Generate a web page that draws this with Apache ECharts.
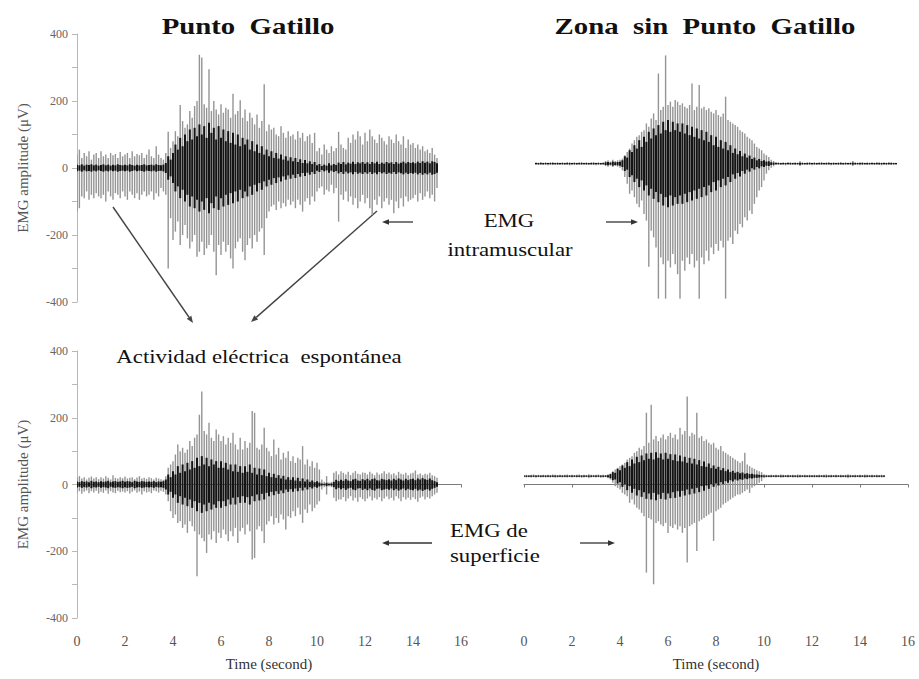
<!DOCTYPE html>
<html><head><meta charset="utf-8">
<script src="https://cdn.jsdelivr.net/npm/echarts@6/dist/echarts.min.js"></script>
<style>html,body{margin:0;padding:0;background:#fff}#c{width:919px;height:679px}</style>
</head><body><div id="c"></div>
<script>
// ---- data (µV), sampled every STEP seconds ----
const STEP = 0.1;
const xTickLabels = [0, 2, 4, 6, 8, 10, 12, 14, 16];
const yTickLabels = [400, 200, 0, -200, -400];
const titles = ['Punto  Gatillo', 'Zona  sin  Punto  Gatillo'];

// Punto Gatillo – EMG intramuscular (t = 0 … 15 s)
const tlStart = 0;
const tlOffset = 0;
const tlHi = [40,55,30,45,35,50,25,40,45,30, 50,35,40,30,45,38,42,30,48,35, 40,45,30,50,35,42,38,45,30,40, 55,35,30,65,40,30,25,45,108,60,
  80,110,95,188,140,120,130,170,150,185, 200,338,330,190,180,295,170,200,175,160, 190,165,180,175,150,222,160,170,202,150, 175,140,165,150,130,160,120,140,250,110,
  130,115,120,100,95,125,105,90,110,95, 100,85,110,90,105,80,95,100,75,105, 50,60,40,70,55,45,65,50,60,108, 70,60,55,90,75,100,85,110,95,70,
  105,80,115,95,85,75,100,90,80,70, 95,85,75,100,80,70,95,60,85,70, 75,60,70,55,65,50,55,45,60,40, 30];
const tlLo = [-130,-120,-85,-90,-70,-95,-80,-90,-75,-85, -90,-80,-100,-70,-85,-95,-75,-80,-90,-70, -85,-95,-70,-80,-90,-75,-95,-80,-70,-85, -80,-70,-95,-75,-85,-60,-70,-80,-300,-150,
  -215,-190,-160,-230,-200,-170,-210,-240,-220,-200, -265,-250,-220,-260,-240,-230,-200,-250,-320,-230, -260,-220,-250,-230,-270,-300,-240,-220,-210,-250, -275,-230,-210,-240,-200,-220,-190,-180,-260,-150,
  -130,-115,-110,-125,-100,-120,-105,-115,-95,-110, -100,-120,-95,-110,-130,-100,-90,-110,-85,-100, -70,-60,-55,-80,-65,-70,-50,-75,-60,-160, -80,-95,-70,-100,-85,-110,-90,-120,-100,-80,
  -105,-90,-120,-140,-95,-110,-85,-120,-100,-90, -110,-95,-135,-100,-120,-90,-115,-85,-100,-95, -90,-80,-100,-75,-95,-85,-70,-90,-80,-100, -60];
const tlCore = [10,8,11,7,10,9,11,8,10,7, 9,11,8,10,7,10,8,11,9,8, 10,8,11,9,7,10,8,9,11,8, 9,10,8,11,9,8,10,15,35,25,
  45,70,55,90,65,100,80,115,85,120, 95,130,100,125,90,135,105,120,85,125, 90,115,80,110,75,105,70,100,65,90, 70,85,55,80,50,70,45,65,40,55,
  35,50,30,45,28,40,25,35,22,32, 20,30,18,26,15,24,14,20,12,18, 8,12,6,10,7,14,8,12,9,16, 12,18,11,16,13,19,12,17,14,18,
  13,17,12,18,14,19,12,16,13,18, 14,17,12,18,13,16,19,14,18,15, 17,14,19,15,20,16,19,14,20,18, 14];

// Zona sin Punto Gatillo – EMG intramuscular (t = 0.5 … 15.5 s)
const trStart = 0.5;
const trOffset = 13;
const trHi = [4,3,5,3,4,3,4,5,3,4, 3,4,3,5,4,3,4,3,4,5, 3,4,3,4,5,3,4,3,4,8, 10,6,12,8,10,12, 15,25,35,45,
  60,70,80,85,95,100,120,110,135,150, 130,269,160,170,323,175,185,170,190,185, 175,180,170,165,175,239,160,170,235,165, 170,160,165,155,150,160,145,140,150,200,
  130,125,120,115,110,100,95,90,80,75, 70,60,50,45,40,30,25,20,12,8, 5,4,3,4,3,5,4,3,4,3, 8,4,3,4,5,3,4,3,4,5,
  3,4,5,3,4,3,4,5,3,4, 3,4,8,4,3,4,5,3,4,3, 4,3,5,4,3,4,3,5,4,3, 3];
const trLo = [-3,-4,-3,-4,-3,-5,-3,-4,-3,-4, -4,-3,-4,-3,-5,-4,-3,-4,-3,-4, -3,-4,-4,-3,-4,-5,-3,-4,-3,-7, -9,-6,-10,-7,-9,-12, -20,-40,-60,-90,
  -80,-100,-120,-130,-110,-150,-170,-308,-200,-220, -250,-403,-280,-300,-403,-290,-310,-270,-300,-330, -403,-290,-320,-280,-300,-270,-310,-290,-403,-280, -300,-260,-290,-250,-270,-240,-260,-230,-250,-403,
  -230,-220,-240,-200,-210,-180,-190,-160,-170,-140, -150,-120,-100,-80,-70,-50,-30,-20,-12,-8, -4,-3,-4,-3,-5,-3,-4,-3,-4,-3, -7,-4,-3,-4,-3,-5,-3,-4,-3,-4,
  -3,-4,-3,-5,-4,-3,-4,-3,-4,-3, -4,-3,-7,-4,-3,-5,-4,-3,-4,-3, -3,-4,-3,-4,-5,-3,-4,-3,-4,-3, -3];
const trCore = [2,2,2,2,2,2,2,2,2,2, 2,2,2,2,2,2,2,2,2,2, 2,2,2,2,2,2,2,2,2,4, 5,3,6,4,5,6, 10,22,18,40,
  35,55,45,70,50,80,65,95,75,105, 85,115,90,125,100,130,95,125,100,120, 95,120,90,115,85,110,80,105,75,100, 70,95,65,85,55,80,50,70,45,65,
  40,55,32,45,28,38,22,30,18,24, 14,18,10,14,8,10,6,7,4,3, 2,2,2,2,2,2,2,2,2,2, 3,2,2,2,2,2,2,2,2,2,
  2,2,2,2,2,2,2,2,2,2, 2,2,3,2,2,2,2,2,2,2, 2,2,2,2,2,2,2,2,2,2, 2];

// Punto Gatillo – EMG de superficie (t = 0 … 15 s)
const blStart = 0;
const blOffset = 0;
const blHi = [20,25,18,22,15,20,24,18,22,16, 22,18,25,20,15,28,20,18,22,19, 24,18,20,22,16,21,25,18,20,17, 22,19,15,20,18,16,14,25,50,60,
  70,90,120,100,110,95,105,130,115,140, 150,209,279,160,150,185,140,130,165,150, 130,145,120,140,125,155,120,105,140,105, 130,110,125,220,215,110,105,120,170,110,
  100,85,135,90,110,75,95,80,100,70, 85,65,80,75,115,60,75,55,70,50, 65,45,15,8,25,6,8,35,40,30, 40,35,30,38,28,35,40,32,30,36,
  35,30,38,33,28,36,30,34,40,32, 36,30,34,28,38,32,30,35,28,33, 35,42,30,33,28,32,30,35,28,25, 20];
const blLo = [-25,-20,-28,-22,-18,-26,-20,-24,-19,-27, -22,-25,-18,-28,-20,-24,-26,-19,-23,-21, -24,-20,-27,-22,-18,-25,-21,-30,-20,-24, -22,-26,-18,-20,-24,-19,-22,-30,-50,-80,
  -100,-90,-115,-110,-130,-120,-145,-110,-125,-140, -275,-150,-160,-170,-205,-150,-165,-140,-175,-145, -160,-135,-150,-170,-140,-155,-130,-175,-140,-130, -150,-120,-140,-225,-220,-135,-125,-140,-175,-120,
  -110,-95,-120,-100,-115,-90,-105,-135,-95,-100, -80,-95,-70,-90,-115,-75,-85,-60,-80,-70, -60,-50,-15,-8,-30,-6,-8,-40,-50,-45, -45,-38,-50,-42,-35,-48,-40,-52,-38,-44,
  -50,-42,-36,-48,-40,-45,-38,-50,-42,-36, -44,-40,-48,-35,-42,-50,-38,-45,-40,-46, -38,-44,-52,-40,-36,-45,-38,-42,-35,-30, -25];
const blCore = [9,7,10,8,9,7,11,8,9,7, 10,8,9,11,7,9,10,8,9,11, 8,10,9,7,11,9,8,10,9,8, 9,8,10,7,9,8,10,15,30,22,
  40,30,55,35,60,40,65,45,70,50, 80,55,85,60,80,55,75,60,70,50, 70,50,65,45,60,40,60,38,55,35, 55,38,60,35,50,30,48,28,45,25,
  35,22,32,20,28,18,26,15,22,14, 22,12,20,10,18,9,15,8,12,7, 10,6,3,2,5,2,3,8,14,10, 14,11,16,12,10,15,17,12,11,16,
  13,17,12,16,18,13,12,17,15,13, 16,12,17,13,18,15,12,17,13,16, 17,13,18,15,19,16,14,18,13,10, 7];

// Zona sin Punto Gatillo – EMG de superficie (t = 0 … 15 s)
const brStart = 0;
const brOffset = 25;
const brHi = [3,4,3,4,5,3,4,3,4,3, 4,3,5,4,3,4,3,4,5,3, 4,3,4,5,3,4,3,6,4,3, 4,5,3,4,3,6,8,15,20,25,
  30,35,40,50,55,60,70,75,85,80, 90,190,100,214,110,120,105,115,125,110, 120,130,115,125,110,145,125,135,239,120, 130,125,190,115,120,105,110,100,95,100,
  85,80,90,75,70,65,60,55,50,45, 40,45,70,35,30,25,22,18,15,12, 6,4,3,4,3,4,3,5,4,3, 4,3,4,3,5,4,3,4,3,4,
  3,4,3,4,3,4,5,3,4,3, 4,3,4,3,4,6,4,3,4,3, 4,3,5,4,3,4,3,4,3,4, 3];
const brLo = [-3,-4,-3,-4,-3,-5,-3,-4,-3,-4, -3,-4,-3,-5,-4,-3,-4,-3,-4,-3, -4,-3,-4,-3,-5,-4,-3,-6,-4,-3, -4,-3,-5,-4,-3,-6,-10,-20,-30,-35,
  -40,-50,-55,-60,-80,-70,-85,-95,-100,-110, -120,-289,-125,-130,-324,-140,-135,-145,-150,-140, -170,-150,-155,-145,-160,-150,-170,-155,-259,-150, -145,-140,-224,-135,-130,-125,-120,-115,-110,-194,
  -105,-100,-95,-85,-80,-75,-70,-65,-60,-55, -55,-50,-45,-40,-50,-35,-30,-25,-20,-15, -6,-4,-3,-4,-3,-4,-3,-5,-4,-3, -4,-3,-4,-3,-5,-4,-3,-4,-3,-4,
  -3,-4,-3,-4,-3,-4,-5,-3,-4,-3, -4,-3,-4,-3,-4,-6,-4,-3,-4,-3, -4,-3,-5,-4,-3,-4,-3,-4,-3,-4, -3];
const brCore = [2,2,2,2,2,2,2,2,2,2, 2,2,2,2,2,2,2,2,2,2, 2,2,2,2,2,2,2,2,2,2, 2,2,2,2,2,3,6,12,10,22,
  18,32,25,42,30,50,38,58,42,62, 48,68,52,70,50,72,55,68,50,70, 52,66,48,65,45,62,44,58,40,55, 38,52,35,48,30,44,28,38,24,32,
  22,28,18,24,15,20,12,16,10,13, 9,11,7,9,6,7,5,5,4,3, 2,2,2,2,2,2,2,2,2,2, 2,2,2,2,2,2,2,2,2,2,
  2,2,2,2,2,2,2,2,2,2, 2,2,2,2,2,2,2,2,2,2, 2,2,2,2,2,2,2,2,2,2, 2];

// ---- build ----
function spikes(start, off, lo, hi) {
  return lo.map((v, i) => [+(start + i * STEP).toFixed(2), v + off, hi[i] + off]);
}
function core(start, off, amp) {
  return amp.map((v, i) => [+(start + i * STEP).toFixed(2), off - v, off + v]);
}
function segRenderer(color, width) {
  return function (params, api) {
    const t = api.value(0);
    const p1 = api.coord([t, api.value(1)]);
    const p2 = api.coord([t, api.value(2)]);
    return { type: 'line', shape: { x1: p1[0], y1: p1[1], x2: p2[0], y2: p2[1] },
      style: { stroke: color, lineWidth: width } };
  };
}
function sig(idx, data, color, width) {
  return { type: 'custom', xAxisIndex: idx, yAxisIndex: idx, clip: true,
    renderItem: segRenderer(color, width), encode: { x: 0, y: [1, 2] }, data: data, silent: true };
}

const serif = "'Liberation Serif', 'Times New Roman', serif";
const GREY = '#949494', DARK = '#141414';

const panels = [
  { s: spikes(tlStart, tlOffset, tlLo, tlHi), c: core(tlStart, tlOffset, tlCore) },
  { s: spikes(trStart, trOffset, trLo, trHi), c: core(trStart, trOffset, trCore) },
  { s: spikes(blStart, blOffset, blLo, blHi), c: core(blStart, blOffset, blCore) },
  { s: spikes(brStart, brOffset, brLo, brHi), c: core(brStart, brOffset, brCore) }
];

const grids = [
  { left: 77, top: 34, width: 384, height: 268 },
  { left: 524, top: 34, width: 384, height: 268 },
  { left: 77, top: 351, width: 384, height: 267 },
  { left: 524, top: 351, width: 384, height: 267 }
];

function xAx(i, visible) {
  return { type: 'value', gridIndex: i, min: 0, max: 16, interval: 2, show: visible, offset: 8,
    axisLine: { show: true, lineStyle: { color: '#7a7a7a', width: 1.2 } },
    axisTick: { show: true, inside: false, length: 3, lineStyle: { color: '#7a7a7a' } },
    splitLine: { show: false },
    axisLabel: { margin: 8, color: '#555', fontFamily: serif, fontSize: 14,
      formatter: v => xTickLabels.includes(v) ? String(v) : '' },
    name: 'Time (second)', nameLocation: 'middle', nameGap: 30,
    nameTextStyle: { color: '#333', fontFamily: serif, fontSize: 15 } };
}
function yAx(i, visible) {
  return { type: 'value', gridIndex: i, min: -400, max: 400, interval: 100, show: visible,
    axisLine: { show: true, lineStyle: { color: '#b8b8b8', width: 1 } },
    axisTick: { show: true, inside: false, length: 5, lineStyle: { color: '#b8b8b8' } },
    splitLine: { show: false },
    axisLabel: { margin: 9, color: '#666', fontFamily: serif, fontSize: 12,
      formatter: v => yTickLabels.includes(v) ? String(v) : '' },
    name: 'EMG amplitude (\u03bcV)', nameLocation: 'middle', nameGap: 47, nameRotate: 90,
    nameTextStyle: { color: '#555', fontFamily: serif, fontSize: 15 } };
}

function text(str, x, y, size, bold, align) {
  return { type: 'text', x: x, y: y, scaleX: 1.2, silent: true,
    style: { text: str, fill: '#111', fontFamily: serif, fontSize: size, fontWeight: bold ? 'bold' : 'normal',
      align: align || 'center', verticalAlign: 'middle' } };
}
function arrow(x1, y1, x2, y2, color, w) {
  const a = Math.atan2(y2 - y1, x2 - x1), L = 7, W = 2.8;
  const bx = x2 - L * Math.cos(a), by = y2 - L * Math.sin(a);
  const px = -Math.sin(a) * W, py = Math.cos(a) * W;
  return [
    { type: 'line', silent: true, shape: { x1: x1, y1: y1, x2: bx, y2: by }, style: { stroke: color, lineWidth: w } },
    { type: 'polygon', silent: true, shape: { points: [[x2, y2], [bx + px, by + py], [bx - px, by - py]] }, style: { fill: color } }
  ];
}

const graphics = [
  text(titles[0], 248, 26, 24, true),
  text(titles[1], 705, 26, 24, true),
  text('EMG', 509, 221, 19),
  text('intramuscular', 510, 250, 19),
  text('Actividad el\u00e9ctrica  espont\u00e1nea', 259, 357, 19),
  text('EMG de', 450, 531, 19, false, 'left'),
  text('superficie', 450, 556, 19, false, 'left'),
  ...arrow(413, 222, 382, 222, '#333', 1.3),
  ...arrow(606, 222, 638, 222, '#333', 1.3),
  ...arrow(113, 207, 193, 323, '#444', 1.4),
  ...arrow(377, 211, 251, 322, '#444', 1.4),
  ...arrow(432, 543, 382, 543, '#333', 1.3),
  ...arrow(580, 543, 615, 543, '#333', 1.3)
];

const chart = echarts.init(document.getElementById('c'), null, { renderer: 'svg' });
chart.setOption({
  animation: false,
  backgroundColor: '#fff',
  grid: grids,
  xAxis: [xAx(0, false), xAx(1, false), xAx(2, true), xAx(3, true)],
  yAxis: [yAx(0, true), yAx(1, false), yAx(2, true), yAx(3, false)],
  series: panels.flatMap((p, i) => [sig(i, p.s, GREY, 1.4), sig(i, p.c, DARK, 2)]),
  graphic: graphics
});
</script>
</body></html>
